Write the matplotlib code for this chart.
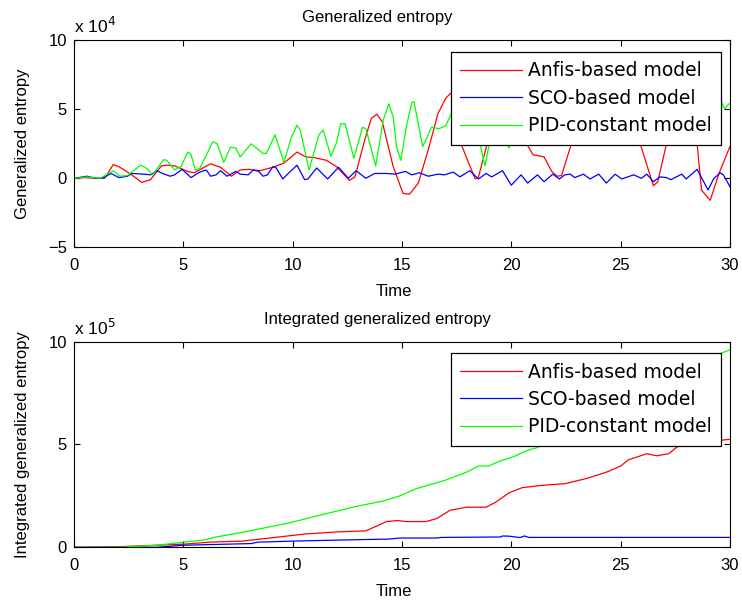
import matplotlib
matplotlib.use("Agg")
import matplotlib.pyplot as plt

plt.rcParams['font.family'] = ['Liberation Sans', 'DejaVu Sans']

# ---- Generalized entropy (units of 1e4) ----
anfis_t = [0, 0.5, 1.0, 1.4, 1.8, 2.1, 2.6, 3.1, 3.5, 4.0, 4.3, 4.6, 5.2, 5.5, 5.9, 6.25, 6.7, 7.2,
           7.6, 8.0, 8.5, 9.1, 9.6, 10.2, 10.6, 11.0, 11.55, 12.0, 12.6, 12.85, 13.3, 13.6, 13.85,
           14.1, 14.6, 15.05, 15.35, 15.75, 16.2, 16.65, 17.0, 17.25, 17.7, 18.35, 18.5, 18.9, 19.4,
           19.8, 20.2, 20.7, 21.0, 21.2, 21.5, 21.85, 22.1, 22.3, 22.75, 23.3, 24.0, 24.8, 25.5,
           25.9, 26.5, 26.7, 27.1, 27.6, 28.0, 28.5, 28.7, 29.1, 29.5, 30.0]
anfis_v = [0, 0.05, 0, 0.0, 1.0, 0.8, 0.3, -0.3, -0.1, 0.9, 0.95, 0.9, 0.5, 0.4, 0.75, 1.05, 0.8, 0.15,
           0.6, 0.65, 0.55, 0.8, 1.1, 1.9, 1.55, 1.5, 1.3, 0.85, -0.15, 0.1, 2.8, 4.35, 4.65,
           4.1, 0.85, -1.1, -1.15, -0.35, 2.05, 4.7, 5.8, 6.2, 2.5, -0.05, 0.1, 2.5, 5.0,
           5.3, 4.0, 2.5, 1.7, 1.65, 1.55, 0.5, 0.15, 0.2, 2.5, 5.0, 6.5, 6.5, 4.5,
           2.5, -0.55, -0.25, 2.5, 5.2, 5.3, 2.5, -0.85, -1.6, 0.35, 2.3]

sco_t = [0, 0.6, 1.0, 1.3, 1.7, 2.05, 2.45, 2.65, 3.2, 3.5, 3.8, 4.05, 4.4, 4.6, 4.95, 5.35, 5.55,
         5.75, 6.05, 6.25, 6.5, 6.7, 7.0, 7.4, 7.6, 7.97, 8.2, 8.45, 8.65, 8.85, 9.1, 9.25, 9.55,
         9.8, 10.2, 10.55, 10.7, 11.1, 11.6, 12.1, 12.55, 12.9, 13.35, 13.75, 14.3, 14.7, 15.15,
         15.45, 15.8, 16.2, 16.65, 16.95, 17.35, 17.65, 18.1, 18.5, 18.85, 19.1, 19.6, 20.0,
         20.45, 20.75, 21.2, 21.5, 21.9, 22.2, 22.45, 22.7, 22.9, 23.3, 23.6, 24.0, 24.35, 24.75,
         25.05, 25.6, 25.95, 26.2, 26.5, 26.8, 27.1, 27.3, 27.8, 28.0, 28.5, 29.0, 29.25, 29.55,
         29.7, 30.0]
sco_v = [0, 0.15, 0, 0, 0.35, 0.05, 0.15, 0.35, 0.3, 0.25, 0.55, 0.35, 0.15, 0.25, 0.65, 0.05, 0.25,
         0.45, 0.6, 0.15, 0.25, 0.55, 0.15, 0.5, 0.3, 0.25, 0.6, 0.5, 0.15, 0.25, 0.85, 0.75, -0.05,
         0.35, 0.95, -0.1, -0.05, 0.75, -0.05, 0.8, 0.0, 0.55, 0.0, 0.35, 0.35, 0.3, 0.5,
         0.25, 0.4, 0.15, 0.3, 0.25, 0.45, 0.1, 0.55, -0.05, 0.35, 0.1, 0.55, -0.5,
         0.25, -0.35, 0.25, -0.25, 0.3, -0.05, 0.25, 0.3, 0.05, 0.3, -0.05, 0.3, -0.35, 0.3,
         -0.05, 0.25, 0.0, 0.3, -0.25, 0.1, 0.05, -0.1, 0.3, -0.05, 0.65, -0.85, -0.05, 0.4,
         0.25, -0.6]

pid_t = [0, 0.6, 1.2, 1.8, 2.1, 2.45, 3.05, 3.35, 3.6, 4.1, 4.25, 4.6, 4.9, 5.2, 5.35, 5.55, 5.75,
         6.35, 6.55, 6.85, 7.15, 7.4, 7.6, 8.1, 8.65, 8.8, 9.2, 9.6, 9.95, 10.2, 10.35, 10.75,
         11.2, 11.4, 11.75, 12.0, 12.2, 12.4, 12.8, 13.2, 13.35, 13.8, 14.15, 14.4, 14.6, 14.75,
         14.95, 15.2, 15.45, 15.55, 15.95, 16.35, 16.7, 17.0, 17.5, 18.0, 18.4, 18.6, 18.8, 19.0,
         19.3, 19.6, 19.9, 20.2, 20.6, 21.0, 21.5, 22.0, 22.5, 23.0, 23.5, 24.0, 24.5, 25.0,
         25.5, 26.0, 26.5, 27.0, 27.5, 28.0, 28.5, 29.0, 29.55, 29.75, 30.0]
pid_v = [0, 0.1, 0, 0.55, 0.15, 0.2, 0.95, 0.7, 0.25, 1.35, 1.3, 0.6, 0.85, 1.9, 1.75, 0.6, 0.7,
         2.65, 2.5, 1.15, 2.25, 2.2, 1.55, 2.5, 1.8, 1.8, 3.15, 1.15, 3.0, 3.85, 3.5, 0.6,
         3.15, 3.5, 1.6, 2.55, 3.95, 3.95, 1.45, 3.7, 3.6, 0.9, 4.25, 5.4, 4.45, 2.3,
         1.3, 3.75, 5.5, 5.55, 2.3, 3.7, 3.6, 3.8, 5.5, 4.5, 3.0, 2.3, 0.9, 2.55,
         4.5, 3.0, 2.2, 4.0, 6.5, 3.5, 6.8, 3.8, 7.0, 4.0, 7.2, 4.2, 7.0, 4.0,
         7.2, 4.5, 7.4, 4.5, 7.3, 4.8, 7.0, 5.0, 5.8, 5.05, 5.45]

# ---- Integrated generalized entropy (units of 1e5) ----
ianfis_t = [0, 2.1, 3.8, 5.0, 6.2, 7.7, 8.95, 10.6, 12.1, 13.35, 14.3, 14.8, 15.2, 16.1, 16.6, 17.2,
            17.95, 18.85, 19.3, 19.9, 20.5, 21.3, 22.5, 23.45, 24.35, 25.0, 25.35, 26.2, 26.65,
            27.2, 27.55, 27.85, 28.5, 29.5, 30.0]
ianfis_v = [0, 0.03, 0.1, 0.15, 0.25, 0.3, 0.45, 0.65, 0.75, 0.8, 1.25, 1.3, 1.25, 1.25, 1.4, 1.8,
            1.95, 1.95, 2.2, 2.65, 2.9, 3.0, 3.1, 3.35, 3.65, 3.95, 4.25, 4.55, 4.45,
            4.55, 4.85, 5.05, 5.15, 5.2, 5.25]

isco_t = [0, 3.8, 5.0, 8.1, 8.4, 10.0, 12.1, 14.4, 14.9, 16.6, 16.8, 19.5, 19.6, 19.9, 20.2, 20.4,
          20.6, 20.8, 30.0]
isco_v = [0, 0.0, 0.1, 0.18, 0.25, 0.3, 0.35, 0.4, 0.45, 0.45, 0.48, 0.5, 0.55, 0.54, 0.5, 0.47,
          0.55, 0.48, 0.48]

ipid_t = [0, 2.1, 3.8, 5.0, 5.9, 6.5, 8.05, 9.9, 11.4, 12.95, 14.15, 14.9, 15.65, 16.95, 17.95,
          18.5, 18.95, 19.5, 20.1, 20.7, 21.2, 21.5, 22.5, 24.0, 25.5, 27.0, 28.5, 29.5, 30.0]
ipid_v = [0, 0, 0.1, 0.25, 0.35, 0.5, 0.8, 1.2, 1.6, 2.0, 2.25, 2.5, 2.85, 3.25, 3.65,
          3.95, 3.95, 4.2, 4.4, 4.7, 4.85, 5.05, 5.4, 6.1, 6.9, 7.8, 8.8, 9.4, 9.6]

labels = ['Anfis-based model', 'SCO-based model', 'PID-constant model']
colors = ['#ff0000', '#0000ff', '#00ff00']

fig = plt.figure(figsize=(7.42, 6.03), dpi=100)
ax1 = fig.add_axes([0.0997, 0.590, 0.884, 0.343])
ax2 = fig.add_axes([0.0997, 0.0924, 0.884, 0.341])


def style(ax, ylim, yticks, ylabel, title, exp):
    ax.set_xlim(0, 30)
    ax.set_ylim(*ylim)
    ax.set_xticks([0, 5, 10, 15, 20, 25, 30])
    ax.set_yticks(yticks)
    ax.tick_params(direction='in', top=True, right=True, length=4, labelsize=12, width=0.8)
    ax.tick_params(axis='x', pad=8)
    ax.tick_params(axis='y', pad=5)
    ax.set_xlabel('Time', fontsize=12)
    ax.xaxis.set_label_coords(0.487, -0.18)
    ax.set_ylabel(ylabel, fontsize=12, labelpad=13)
    ax.set_title(title, fontsize=12, x=0.462, pad=13)
    ax.text(0.0, 1.02, 'x 10$^{%d}$' % exp, transform=ax.transAxes, fontsize=12.5,
            va='bottom', ha='left')
    leg = ax.legend(loc='upper right', bbox_to_anchor=(0.986, 0.944), borderaxespad=0,
                    prop={'family': 'DejaVu Sans', 'size': 13.5}, fancybox=False,
                    edgecolor='black', framealpha=1, handlelength=3.3, handletextpad=0.3,
                    borderpad=0.5, labelspacing=0.45)
    leg.get_frame().set_linewidth(0.9)


for t, v, c, lab in zip([anfis_t, sco_t, pid_t], [anfis_v, sco_v, pid_v], colors, labels):
    ax1.plot(t, v, color=c, lw=0.9, label=lab)
style(ax1, (-5, 10), [-5, 0, 5, 10], 'Generalized entropy', 'Generalized entropy', 4)

for t, v, c, lab in zip([ianfis_t, isco_t, ipid_t], [ianfis_v, isco_v, ipid_v], colors, labels):
    ax2.plot(t, v, color=c, lw=0.9, label=lab)
style(ax2, (0, 10), [0, 5, 10], 'Integrated generalized entropy',
      'Integrated generalized entropy', 5)

fig.savefig('out.png', dpi=100)
